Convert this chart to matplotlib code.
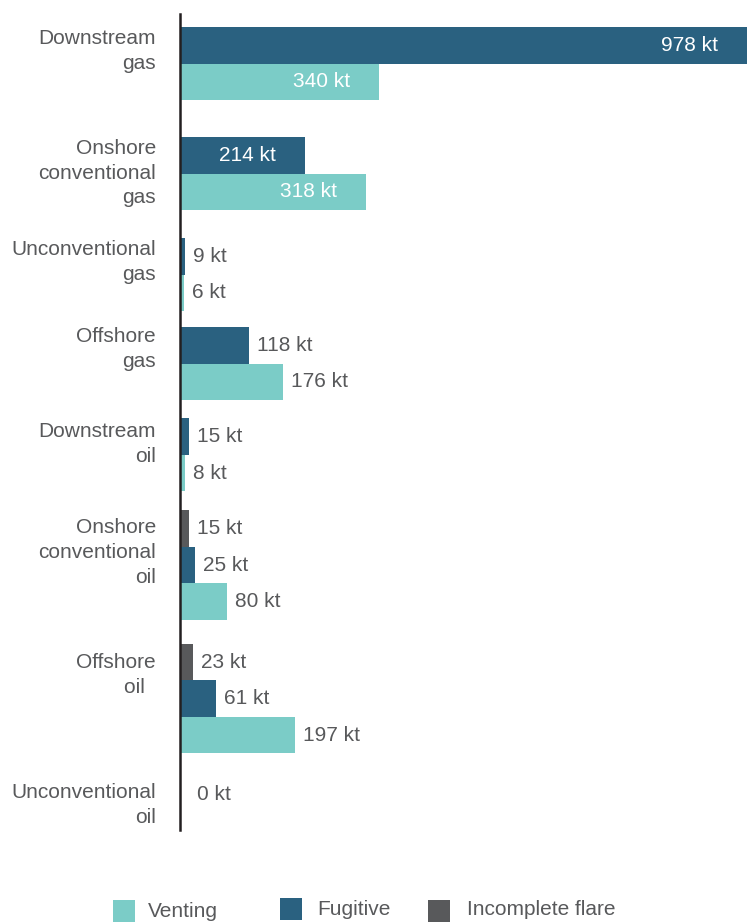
import numpy as np
import matplotlib.pyplot as plt
from matplotlib.patches import Rectangle

plt.rcParams['font.family'] = ['Liberation Sans', 'DejaVu Sans']

# data
categories = ["Downstream\ngas", "Onshore\nconventional\ngas", "Unconventional\ngas",
              "Offshore\ngas", "Downstream\noil", "Onshore\nconventional\noil",
              "Offshore\noil  ", "Unconventional\noil"]
flare = [0, 0, 0, 0, 0, 15, 23, 0]
fugitive = [978, 214, 9, 118, 15, 25, 61, 0]
venting = [340, 318, 6, 176, 8, 80, 197, 0]
legend_names = ["Venting", "Fugitive", "Incomplete flare"]

# styles
c_vent = "#7bccc7"
c_fug = "#2a6180"
c_flare = "#58595b"
c_text = "#58595b"
W, H = 747, 922
BAR_PX = 36.5                      # bar thickness in pixels
gaps_px = [13, 37, 28, 16, 18, 19, 24, 23]   # white space above each group
label_shift = [2, 2, 2, 0, 4, 8, 9, 7]       # nudge of category labels (px)
FS = 15

fig = plt.figure(figsize=(W / 100, H / 100), dpi=100)
ax = fig.add_axes([180 / W, 1 - 830 / H, (W - 180) / W, 816 / H])

y = 0.0
for i, cat in enumerate(categories):
    y += gaps_px[i] / BAR_PX
    top = y
    rows = [(v, c) for v, c in [(flare[i], c_flare), (fugitive[i], c_fug),
                                 (venting[i], c_vent)] if v > 0]
    if not rows:
        rows = [(0, c_vent)]
    for val, col in rows:
        yc = y + 0.5
        ax.barh(yc, max(val, 3.5) if val else 0, height=1.0, color=col, linewidth=0)
        if val > 200:
            ax.annotate(f"{val} kt", xy=(min(val, 970), yc), xytext=(-29, 0),
                        textcoords="offset pixels", ha="right", va="center",
                        color="white", fontsize=FS)
        else:
            off = 17 if val == 0 else 8
            ax.annotate(f"{val} kt", xy=(max(val, 3.5) if val else 0, yc),
                        xytext=(off, 0), textcoords="offset pixels",
                        ha="left", va="center", color=c_text, fontsize=FS)
        y += 1
    ax.annotate(cat, xy=(0, top), xytext=(-24, -label_shift[i]),
                textcoords="offset pixels", ha="right", va="top",
                color=c_text, fontsize=FS, linespacing=1.38,
                annotation_clip=False)

ax.set_xlim(0, 970)
ax.set_ylim(y + 17 / BAR_PX, 0)
for s in ["top", "right", "bottom"]:
    ax.spines[s].set_visible(False)
ax.spines["left"].set_linewidth(1.8)
ax.spines["left"].set_color("#231f20")
ax.set_xticks([])
ax.set_yticks([])

# legend drawn by hand
leg = [(113, 900, 148, 911, c_vent), (280, 898, 317, 909, c_fug),
       (428, 900, 467, 909, c_flare)]
for name, (sx, sy, tx, ty, col) in zip(legend_names, leg):
    fig.add_artist(Rectangle((sx / W, 1 - (sy + 22) / H), 22 / W, 22 / H,
                             transform=fig.transFigure, color=col, lw=0))
    fig.text(tx / W, 1 - ty / H, name, ha="left", va="center",
             color=c_text, fontsize=FS)

fig.savefig("out.png", dpi=100)
